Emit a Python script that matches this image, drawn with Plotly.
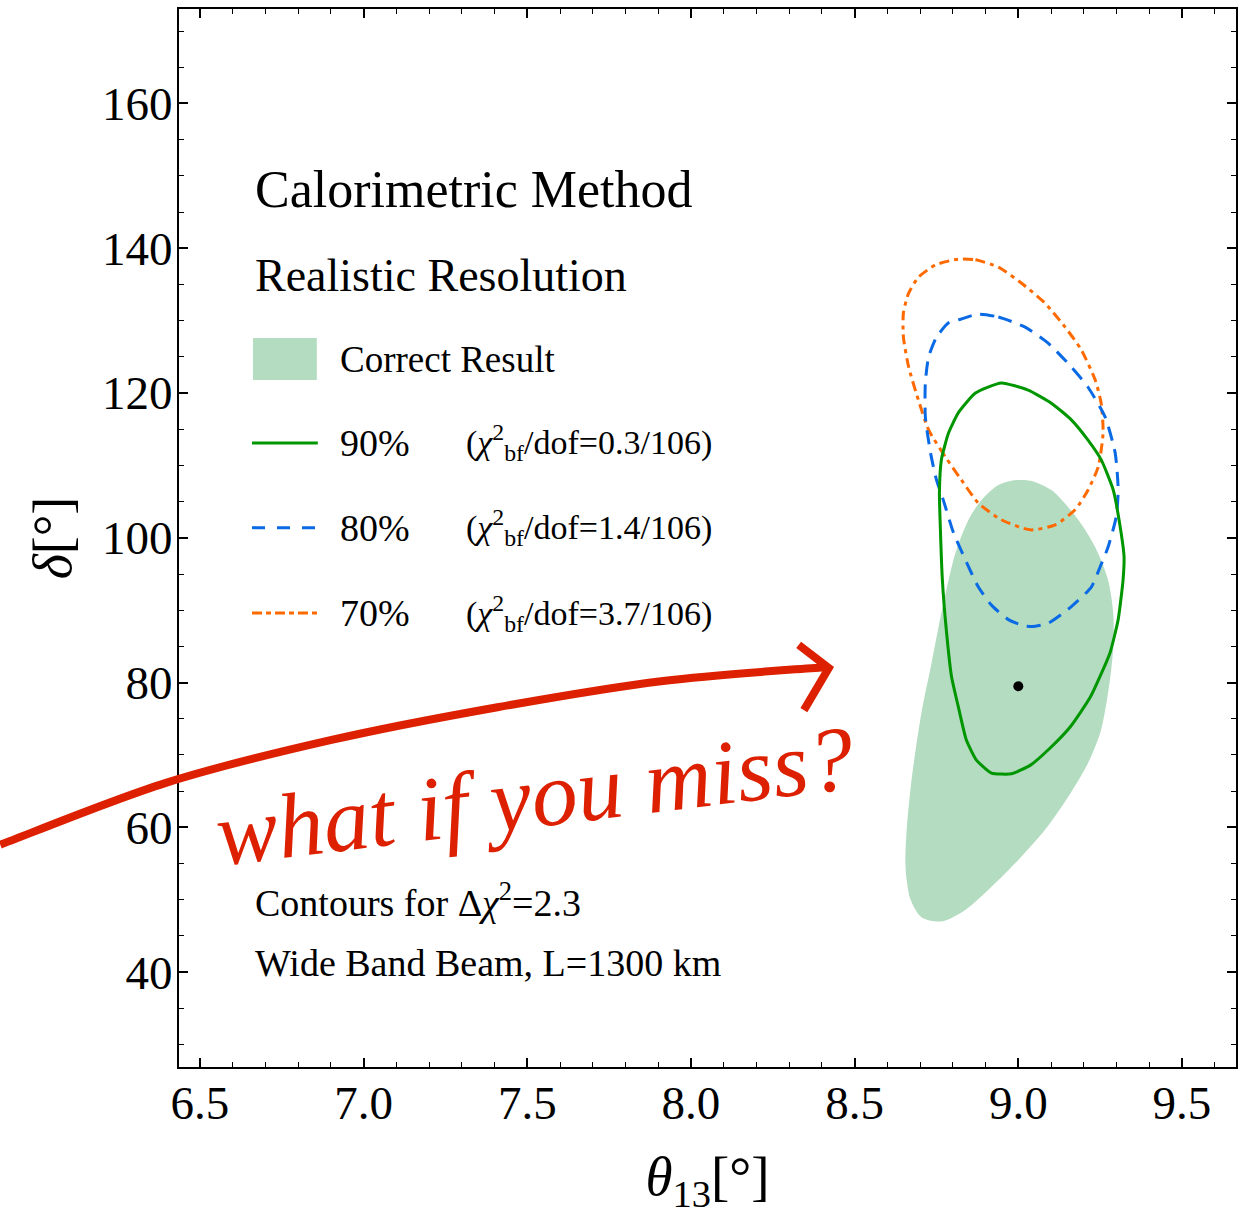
import plotly.graph_objects as go

# ---------------- data (theta13 in degrees, delta in degrees) ----------------
correct_theta = [8.979, 9.037, 9.101, 9.183, 9.235, 9.274, 9.290, 9.290, 9.280, 9.253,
                 9.213, 9.152, 9.082, 9.000, 8.918, 8.838, 8.765, 8.704, 8.671, 8.659,
                 8.655, 8.659, 8.674, 8.704, 8.735, 8.765, 8.808, 8.848, 8.887, 8.939, 8.979]
correct_delta = [107.9, 107.9, 106.6, 102.5, 98.7, 94.2, 89.6, 84.9, 80.4, 73.5,
                 68.9, 64.2, 59.7, 55.5, 51.8, 48.6, 47.0, 47.6, 50.0, 52.7,
                 55.1, 59.7, 66.6, 75.8, 82.7, 89.6, 97.9, 102.5, 105.2, 107.3, 107.9]

c90_theta = [8.948, 9.030, 9.101, 9.162, 9.213, 9.253, 9.290, 9.314, 9.323, 9.320,
             9.305, 9.280, 9.220, 9.159, 9.098, 9.037, 8.979, 8.918, 8.872, 8.841,
             8.817, 8.796, 8.780, 8.768, 8.762, 8.759, 8.765, 8.787, 8.817, 8.869, 8.948]
c90_delta = [121.4, 120.4, 118.6, 116.3, 113.5, 110.8, 106.6, 100.7, 97.4, 94.2,
             88.7, 84.1, 78.0, 73.9, 71.0, 68.6, 67.4, 67.5, 69.3, 72.1,
             76.6, 80.8, 87.3, 94.2, 101.1, 106.2, 110.8, 114.5, 117.3, 120.0, 121.4]

c80_theta = [8.878, 8.939, 9.021, 9.091, 9.162, 9.213, 9.265, 9.296, 9.305, 9.299,
             9.274, 9.250, 9.223, 9.162, 9.091, 9.052, 9.021, 8.970, 8.918, 8.878,
             8.838, 8.802, 8.771, 8.750, 8.732, 8.716, 8.716, 8.726, 8.750, 8.787,
             8.817, 8.878]
c80_delta = [130.9, 130.5, 129.1, 126.9, 123.6, 120.8, 116.7, 111.7, 106.6, 102.9,
             98.7, 96.0, 93.2, 90.5, 88.2, 87.8, 87.8, 88.7, 90.7, 93.2,
             97.0, 100.7, 105.2, 108.0, 111.7, 116.7, 121.4, 125.0, 127.7, 129.7,
             130.1, 130.9]

c70_theta = [8.817, 8.869, 8.939, 9.009, 9.082, 9.143, 9.192, 9.235, 9.253, 9.259,
             9.244, 9.213, 9.174, 9.113, 9.037, 8.948, 8.878, 8.826, 8.777, 8.726,
             8.695, 8.665, 8.649, 8.649, 8.665, 8.695, 8.747, 8.817]
c70_delta = [138.5, 138.4, 137.4, 135.2, 132.4, 129.1, 126.0, 121.8, 118.6, 114.5,
             109.8, 106.6, 103.9, 101.8, 101.1, 102.5, 104.8, 108.0, 111.2, 114.9,
             119.0, 123.6, 127.7, 131.1, 133.8, 136.0, 137.7, 138.5]

bestfit_theta = [9.0]
bestfit_delta = [79.5]

x_tick_values = [6.5, 7.0, 7.5, 8.0, 8.5, 9.0, 9.5]
x_tick_labels = ["6.5", "7.0", "7.5", "8.0", "8.5", "9.0", "9.5"]
y_tick_values = [40, 60, 80, 100, 120, 140, 160]
y_tick_labels = ["40", "60", "80", "100", "120", "140", "160"]

# hand-drawn annotation arrow (theta, delta)
arrow_theta = [5.890, 6.396, 6.902, 7.409, 7.915, 8.415]
arrow_delta = [57.6, 66.15, 72.08, 76.6, 80.23, 82.17]
arrowhead_theta = [8.329, 8.421, 8.345]
arrowhead_delta = [85.2, 82.0, 76.2]

# ---------------- styling ----------------
X_RANGE = [6.436, 9.665]
Y_RANGE = [26.9, 173.05]
FONT = "Liberation Serif"
FILL = "#b3dcc0"
GREEN = "#009600"
BLUE = "#0a6ae6"
ORANGE = "#ff6a00"
RED = "#dd2000"

fig = go.Figure()

fig.add_trace(go.Scatter(x=correct_theta, y=correct_delta, mode="lines", fill="toself",
                         fillcolor=FILL, line=dict(width=0, color=FILL, shape="spline", smoothing=0.8),
                         hoverinfo="skip", showlegend=False))
fig.add_trace(go.Scatter(x=c70_theta, y=c70_delta, mode="lines",
                         line=dict(color=ORANGE, width=3, dash="10px,5px,4px,5px", shape="spline", smoothing=0.6),
                         showlegend=False))
fig.add_trace(go.Scatter(x=c80_theta, y=c80_delta, mode="lines",
                         line=dict(color=BLUE, width=3, dash="14px,9px", shape="spline", smoothing=0.6),
                         showlegend=False))
fig.add_trace(go.Scatter(x=c90_theta, y=c90_delta, mode="lines",
                         line=dict(color=GREEN, width=3, shape="spline", smoothing=0.5),
                         showlegend=False))
fig.add_trace(go.Scatter(x=bestfit_theta, y=bestfit_delta, mode="markers",
                         marker=dict(color="black", size=10), showlegend=False))

# ---------------- legend-like annotations ----------------
shapes = []
annotations = []

def txt(x, y, s, size, anchor="left", color="black", **kw):
    annotations.append(dict(x=x, y=y, xref="x", yref="y", text=s, showarrow=False,
                            xanchor=anchor, yanchor="middle",
                            font=dict(family=FONT, size=size, color=color), **kw))

txt(6.662, 148.1, "Calorimetric Method", 52)
txt(6.662, 136.3, "Realistic Resolution", 46)

shapes.append(dict(type="rect", xref="x", yref="y", x0=6.662, x1=6.857, y0=121.8, y1=127.6,
                   fillcolor=FILL, line=dict(width=0)))
txt(6.921, 124.6, "Correct Result", 37)

legend_rows = [
    (113.1, GREEN, "solid", "90%", "0.3/106"),
    (101.4, BLUE, "13px,12px", "80%", "1.4/106"),
    (89.6, ORANGE, "10px,4px,5px,4px", "70%", "3.7/106"),
]
for yv, col, dash, lab, val in legend_rows:
    shapes.append(dict(type="line", xref="x", yref="y", x0=6.659, x1=6.860, y0=yv, y1=yv,
                       line=dict(color=col, width=3, dash=dash)))
    txt(6.921, yv, lab, 38)
    txt(7.308, yv, "(<i>χ</i><sup>2</sup><sub>bf</sub>/dof=" + val + ")", 34)

txt(6.662, 50.0, "Contours for Δ<i>χ</i><sup>2</sup>=2.3", 38)
txt(6.662, 41.3, "Wide Band Beam, L=1300 km", 38)

# hand-written remark
annotations.append(dict(x=7.521, y=64.3, xref="x", yref="y", text="<i>what if you miss?</i>",
                        showarrow=False, xanchor="center", yanchor="middle", textangle=-7,
                        font=dict(family=FONT, size=92, color=RED)))

# ---------------- arrow (drawn in paper coordinates so it may leave the frame) ----------------
def to_paper(t, d):
    return ((t - X_RANGE[0]) / (X_RANGE[1] - X_RANGE[0]),
            (d - Y_RANGE[0]) / (Y_RANGE[1] - Y_RANGE[0]))

pts = [to_paper(t, d) for t, d in zip(arrow_theta, arrow_delta)]
path = "M %.5f,%.5f" % pts[0]
for i in range(len(pts) - 1):
    p0 = pts[i - 1] if i > 0 else pts[i]
    p1 = pts[i]
    p2 = pts[i + 1]
    p3 = pts[i + 2] if i + 2 < len(pts) else pts[i + 1]
    c1 = (p1[0] + (p2[0] - p0[0]) / 6, p1[1] + (p2[1] - p0[1]) / 6)
    c2 = (p2[0] - (p3[0] - p1[0]) / 6, p2[1] - (p3[1] - p1[1]) / 6)
    path += " C %.5f,%.5f %.5f,%.5f %.5f,%.5f" % (c1 + c2 + p2)
shapes.append(dict(type="path", xref="paper", yref="paper", path=path,
                   line=dict(color=RED, width=8)))
hp = [to_paper(t, d) for t, d in zip(arrowhead_theta, arrowhead_delta)]
shapes.append(dict(type="path", xref="paper", yref="paper",
                   path="M %.5f,%.5f L %.5f,%.5f L %.5f,%.5f" % (hp[0] + hp[1] + hp[2]),
                   line=dict(color=RED, width=8)))

axis_common = dict(showline=True, linecolor="black", linewidth=2, mirror="ticks",
                   ticks="inside", tickcolor="black", tickwidth=1.5, ticklen=9,
                   showgrid=False, zeroline=False,
                   tickfont=dict(family=FONT, size=47, color="black"))

fig.update_layout(
    width=1240, height=1215,
    margin=dict(l=179, r=2, t=9, b=148),
    plot_bgcolor="white", paper_bgcolor="white",
    shapes=shapes, annotations=annotations,
    xaxis=dict(range=X_RANGE, tickmode="array", tickvals=x_tick_values, ticktext=x_tick_labels,
               ticklabelstandoff=-6,
               minor=dict(tickmode="linear", tick0=6.5, dtick=0.1, ticks="inside", ticklen=5,
                          tickwidth=1.2, tickcolor="black", showgrid=False),
               title=dict(text="<i>θ</i><sub>13</sub>[°]", font=dict(family=FONT, size=55, color="black"),
                          standoff=30),
               **axis_common),
    yaxis=dict(range=Y_RANGE, tickmode="array", tickvals=y_tick_values, ticktext=y_tick_labels,
               ticklabelstandoff=-5,
               minor=dict(tickmode="linear", tick0=40, dtick=5, ticks="inside", ticklen=5,
                          tickwidth=1.2, tickcolor="black", showgrid=False),
               title=dict(text="<i>δ</i>[°]", font=dict(family=FONT, size=54, color="black"),
                          standoff=13),
               **axis_common),
)

fig.write_html("out.html")
